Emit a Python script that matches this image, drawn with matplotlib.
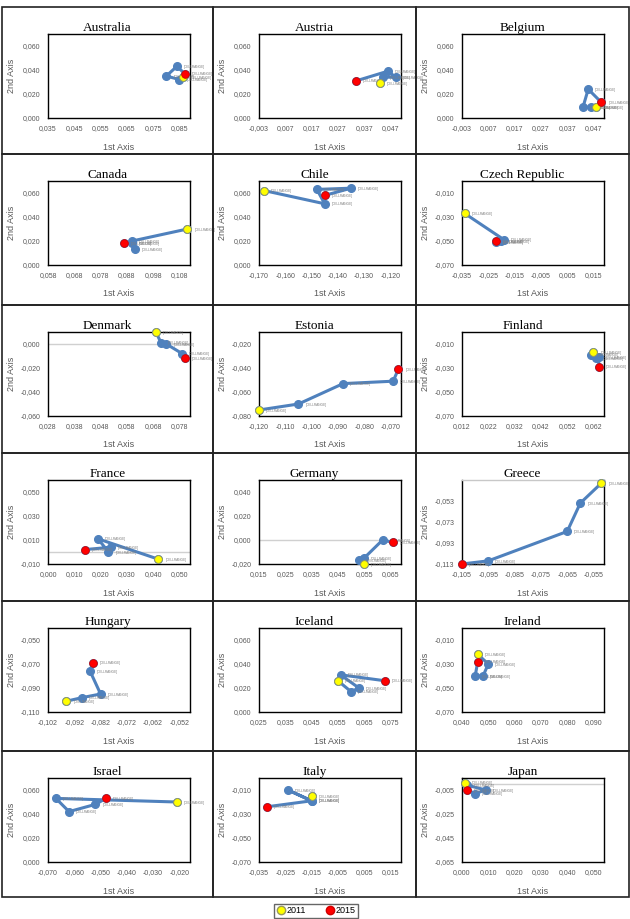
import matplotlib
matplotlib.use("Agg")
import matplotlib.pyplot as plt
from matplotlib.lines import Line2D
from matplotlib.patches import Rectangle

# data (2011 -> 2015, first yellow, last red)
countries = ["Australia", "Austria", "Belgium", "Canada", "Chile", "Czech Republic",
             "Denmark", "Estonia", "Finland", "France", "Germany", "Greece",
             "Hungary", "Iceland", "Ireland", "Israel", "Italy", "Japan"]

axis1 = [
    [0.0865, 0.085, 0.080, 0.084, 0.087],
    [0.043, 0.044, 0.049, 0.046, 0.034],
    [0.048, 0.046, 0.043, 0.045, 0.050],
    [0.111, 0.090, 0.091, 0.090, 0.087],
    [-0.168, -0.145, -0.148, -0.135, -0.145],
    [-0.034, -0.019, -0.020, -0.022, -0.022],
    [0.069, 0.071, 0.073, 0.079, 0.080],
    [-0.120, -0.105, -0.088, -0.069, -0.067],
    [0.062, 0.061, 0.063, 0.064, 0.064],
    [0.042, 0.019, 0.023, 0.024, 0.014],
    [0.055, 0.053, 0.055, 0.062, 0.066],
    [-0.052, -0.060, -0.065, -0.095, -0.105],
    [-0.095, -0.089, -0.082, -0.086, -0.085],
    [0.055, 0.060, 0.063, 0.056, 0.073],
    [0.046, 0.050, 0.048, 0.045, 0.046],
    [-0.021, -0.067, -0.062, -0.052, -0.048],
    [-0.015, -0.015, -0.024, -0.015, -0.032],
    [0.001, 0.002, 0.009, 0.005, 0.002],
]

axis2 = [
    [0.034, 0.032, 0.035, 0.043, 0.037],
    [0.029, 0.034, 0.034, 0.039, 0.031],
    [0.009, 0.009, 0.009, 0.024, 0.013],
    [0.030, 0.020, 0.013, 0.018, 0.018],
    [0.062, 0.051, 0.063, 0.064, 0.058],
    [-0.027, -0.049, -0.050, -0.051, -0.050],
    [0.010, 0.001, 0.000, -0.008, -0.012],
    [-0.075, -0.070, -0.053, -0.051, -0.041],
    [-0.017, -0.019, -0.022, -0.021, -0.029],
    [-0.006, 0.011, 0.000, 0.004, 0.002],
    [-0.020, -0.017, -0.015, 0.000, -0.002],
    [-0.036, -0.055, -0.082, -0.110, -0.113],
    [-0.101, -0.098, -0.095, -0.076, -0.069],
    [0.026, 0.017, 0.020, 0.031, 0.026],
    [-0.022, -0.030, -0.040, -0.040, -0.028],
    [0.050, 0.053, 0.042, 0.048, 0.053],
    [-0.015, -0.019, -0.010, -0.019, -0.024],
    [0.001, -0.001, -0.005, -0.008, -0.005],
]

# first x tick of each panel (ticks every 0.01)
x_first = [0.035, -0.003, -0.003, 0.058, -0.170, -0.035,
           0.028, -0.120, 0.012, 0.000, 0.015, -0.105,
           -0.102, 0.025, 0.040, -0.070, -0.035, 0.000]
# lowest / highest value of the 2nd axis
y_low = [0.0, 0.0, 0.0, 0.0, 0.0, -0.07,
         -0.06, -0.08, -0.07, -0.01, -0.02, -0.113,
         -0.11, 0.0, -0.07, 0.0, -0.07, -0.065]
y_high = [0.07, 0.07, 0.07, 0.07, 0.07, 0.0,
          0.01, -0.01, 0.0, 0.06, 0.05, -0.033,
          -0.04, 0.07, 0.0, 0.07, 0.0, 0.005]

W, H = 630, 919
col_edges = [2, 213, 416, 629]
row_edges = [7, 154, 305, 453, 601, 751, 897]

blue = "#4f81bd"
grey = "#595959"

fig = plt.figure(figsize=(6.3, 9.19), dpi=100)


def fx(px):
    return px / W


def fy(py):
    return 1 - py / H


def fmt(v):
    return f"{v:.3f}".replace(".", ",")


for i, name in enumerate(countries):
    r, c = divmod(i, 3)
    cl, cr = col_edges[c], col_edges[c + 1]
    ct, cb = row_edges[r], row_edges[r + 1]

    # cell frame
    fig.add_artist(Rectangle((fx(cl), fy(cb)), (cr - cl) / W, (cb - ct) / H,
                             transform=fig.transFigure, fill=False,
                             edgecolor="#222222", lw=1.2))

    left, top, w, h = cl + 46, ct + 27, 142, 84
    ax = fig.add_axes([fx(left), fy(top + h), w / W, h / H])

    x0 = x_first[i]
    xt = [x0 + 0.01 * k for k in range(6)]
    ax.set_xlim(x0, x0 + 0.054)
    ax.set_xticks(xt)
    ax.set_xticklabels([fmt(v) for v in xt])
    ax.set_ylim(y_low[i], y_high[i])
    yt = [y_low[i] + 0.02 * k for k in range(4)]
    ax.set_yticks(yt)
    ax.set_yticklabels([fmt(v) for v in yt])
    ax.tick_params(length=0, labelsize=5, labelcolor=grey)
    ax.tick_params(axis="x", pad=5)
    ax.tick_params(axis="y", pad=5.5)
    for lab in ax.get_xticklabels() + ax.get_yticklabels():
        lab.set_fontfamily("Liberation Sans")
    for s in ax.spines.values():
        s.set_color("black")
        s.set_linewidth(1.0)
    if name == "Greece":
        ax.spines["top"].set_color("#c8c8c8")

    if y_low[i] < 0 < y_high[i]:
        ax.axhline(0, color="#d0d0d0", lw=1.0, zorder=1)

    xs, ys = axis1[i], axis2[i]
    ax.plot(xs, ys, "-o", color=blue, lw=2.2, ms=5.5, zorder=3, clip_on=False)
    ax.plot(xs[0], ys[0], "o", mfc="#ffff00", mec="#9a9a5a", mew=0.6, ms=5.5,
            zorder=4, clip_on=False)
    ax.plot(xs[-1], ys[-1], "o", mfc="#ff0000", mec="#d00000", mew=0.6, ms=5.5,
            zorder=4, clip_on=False)
    for xv, yv in zip(xs, ys):
        ax.annotate("[CELLRANGE]", (xv, yv), xytext=(5, -0.5),
                    textcoords="offset points", fontsize=2.3, color="#7f7f7f",
                    va="center", ha="left", annotation_clip=False,
                    family="Liberation Sans")

    fig.text(fx((cl + cr) / 2), fy(top - 6), name, ha="center", va="center",
             fontsize=9.5, family="Liberation Serif", color="black")
    fig.text(fx(left + w / 2), fy(top + h + 29), "1st Axis", ha="center",
             va="center", fontsize=6.5, color=grey, family="Liberation Sans")
    fig.text(fx(cl + 9), fy(top + h / 2), "2nd Axis", ha="center", va="center",
             rotation=90, fontsize=6.5, color=grey, family="Liberation Sans")

handles = [
    Line2D([], [], ls="none", marker="o", mfc="#ffff00", mec="#9a9a5a", ms=6),
    Line2D([], [], ls="none", marker="o", mfc="#ff0000", mec="#d00000", ms=6),
]
fig.legend(handles, ["2011", "2015"], loc="upper center",
           bbox_to_anchor=(fx(316), fy(904)), ncol=2,
           frameon=True, fancybox=False, edgecolor="#404040",
           handletextpad=0.1, columnspacing=2.2, borderpad=0.25,
           handlelength=1.0, borderaxespad=0,
           prop={"family": "Liberation Sans", "size": 6.5})

fig.savefig("out.png", dpi=100)
